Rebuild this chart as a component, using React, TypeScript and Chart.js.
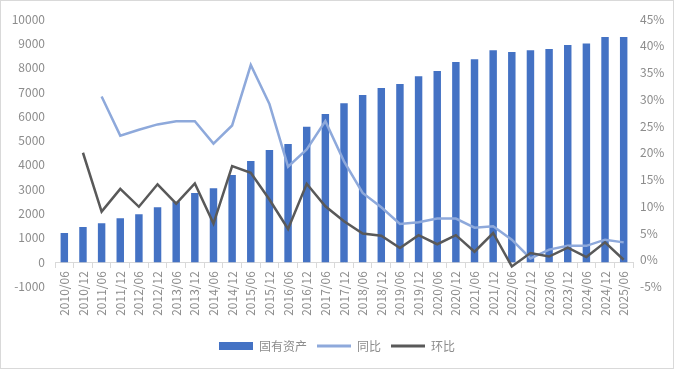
import React, { useEffect, useRef } from "react";
import { Chart, registerables } from "chart.js";

Chart.register(...registerables);

const categories = [
  "2010/06", "2010/12", "2011/06", "2011/12", "2012/06", "2012/12", "2013/06", "2013/12",
  "2014/06", "2014/12", "2015/06", "2015/12", "2016/06", "2016/12", "2017/06", "2017/12",
  "2018/06", "2018/12", "2019/06", "2019/12", "2020/06", "2020/12", "2021/06", "2021/12",
  "2022/06", "2022/12", "2023/06", "2023/12", "2024/06", "2024/12", "2025/06",
];

const assets = [
  1200, 1450, 1600, 1810, 1975, 2260, 2490, 2840,
  3045, 3580, 4160, 4610, 4860, 5570, 6090, 6540,
  6870, 7160, 7330, 7650, 7860, 8230, 8350, 8720,
  8640, 8720, 8770, 8930, 8990, 9260, 9260,
];

const yoy = [
  null, null, 30.5, 23.2, 24.3, 25.3, 25.9, 25.9,
  21.7, 25.1, 36.4, 29.1, 17.4, 20.6, 25.9, 18.4,
  12.5, 9.8, 6.7, 7.0, 7.7, 7.7, 6.0, 6.25,
  3.75, 0.25, 1.9, 2.6, 2.6, 3.75, 3.25,
];

const qoq = [
  null, 20.0, 9.0, 13.25, 9.9, 14.1, 10.5, 14.25,
  6.75, 17.5, 16.25, 11.25, 5.75, 14.2, 10.0, 7.2,
  4.9, 4.5, 2.2, 4.6, 2.9, 4.6, 1.5, 5.0,
  -1.25, 1.25, 0.6, 2.25, 0.5, 3.25, 0.0,
];

const seriesNames = ["固有资产", "同比", "环比"];
const leftTicks = { min: -1000, max: 10000, step: 1000 };
const rightTicks = { min: -5, max: 45, step: 5 };

const FONT = "'Noto Sans CJK SC', 'Noto Sans', sans-serif";
const TEXT = "#8c8c8c";

export default function App() {
  const ref = useRef<HTMLCanvasElement | null>(null);

  useEffect(() => {
    document.body.style.margin = "0";
    const canvas = ref.current;
    if (!canvas) return;
    const chart = new Chart(canvas, {
      type: "bar",
      data: {
        labels: categories,
        datasets: [
          {
            type: "bar",
            label: seriesNames[0],
            data: assets,
            yAxisID: "y",
            backgroundColor: "#4472C4",
            barPercentage: 0.4,
            categoryPercentage: 1,
            order: 3,
          },
          {
            type: "line",
            label: seriesNames[1],
            data: yoy,
            yAxisID: "y1",
            borderColor: "#8EA9DB",
            backgroundColor: "#8EA9DB",
            borderWidth: 2.5,
            pointRadius: 0,
            tension: 0,
            order: 2,
          },
          {
            type: "line",
            label: seriesNames[2],
            data: qoq,
            yAxisID: "y1",
            borderColor: "#595959",
            backgroundColor: "#595959",
            borderWidth: 2.5,
            pointRadius: 0,
            tension: 0,
            order: 1,
          },
        ],
      } as any,
      options: {
        animation: false,
        responsive: false,
        maintainAspectRatio: false,
        layout: { padding: { top: 19, left: 0, right: 0, bottom: 7 } },
        plugins: {
          tooltip: { enabled: false },
          legend: {
            position: "bottom",
            title: {
              display: true,
              text: "",
              font: { size: 10, lineHeight: 1.2 },
              padding: { top: 0, bottom: 31.5 },
            },
            labels: {
              usePointStyle: true,
              pointStyleWidth: 34,
              boxHeight: 8,
              padding: 10,
              color: TEXT,
              font: { family: FONT, size: 12 },
              generateLabels: (c: any) =>
                c.data.datasets.map((ds: any, i: number) => ({
                  text: ds.label,
                  fillStyle: i === 0 ? "#4472C4" : "rgba(0,0,0,0)",
                  strokeStyle: i === 0 ? "#4472C4" : ds.borderColor,
                  lineWidth: i === 0 ? 0 : 3,
                  pointStyle: i === 0 ? "rect" : "line",
                  fontColor: TEXT,
                  hidden: false,
                  datasetIndex: i,
                })),
            },
          },
        },
        scales: {
          x: {
            type: "category",
            position: { y: 0 } as any,
            grid: {
              display: true,
              drawOnChartArea: false,
              offset: true,
              tickLength: 5,
              color: "#D9D9D9",
            },
            border: { display: true, color: "#D9D9D9" },
            ticks: {
              autoSkip: false,
              minRotation: 90,
              maxRotation: 90,
              padding: 4,
              color: TEXT,
              font: { family: FONT, size: 12 },
            },
          },
          y: {
            position: "left",
            min: leftTicks.min,
            max: leftTicks.max,
            grid: { display: false, drawTicks: false },
            border: { display: false },
            ticks: {
              stepSize: leftTicks.step,
              padding: 10,
              color: TEXT,
              font: { family: FONT, size: 12 },
              callback: (v: any) => String(v),
            },
            afterFit: (s: any) => {
              s.width = 55;
            },
          },
          y1: {
            position: "right",
            min: rightTicks.min,
            max: rightTicks.max,
            grid: { display: false, drawTicks: false },
            border: { display: false },
            ticks: {
              stepSize: rightTicks.step,
              padding: 7,
              color: TEXT,
              font: { family: FONT, size: 12 },
              callback: (v: any) => `${v}%`,
            },
            afterFit: (s: any) => {
              s.width = 41;
            },
          },
        },
      } as any,
    });
    return () => chart.destroy();
  }, []);

  return (
    <div
      style={{
        position: "relative",
        width: 674,
        height: 369,
        outline: "1px solid #D9D9D9",
        outlineOffset: -1,
        background: "#fff",
      }}
    >
      <canvas ref={ref} width={674} height={369} style={{ display: "block" }} />
    </div>
  );
}
